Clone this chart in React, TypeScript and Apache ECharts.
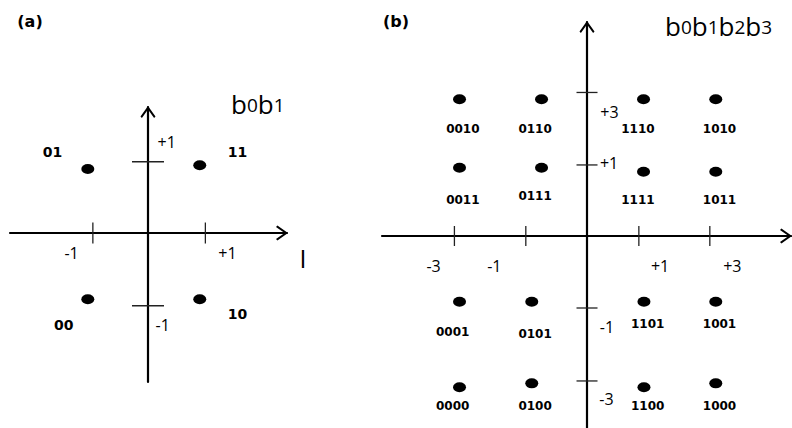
import React, { useEffect, useRef } from 'react';
import * as echarts from 'echarts';

// ---------- Panel (a): QPSK ----------
const qpskBits = ['01', '11', '00', '10'];
const qpskI = [-1.07, 0.92, -1.07, 0.92];
const qpskQ = [0.89, 0.94, -0.92, -0.92];
const qpskLabelI = [-1.69, 1.6, -1.49, 1.6];
const qpskLabelQ = [1.125, 1.125, -1.28, -1.125];
const qpskTickI = [-0.98, 1.02];
const qpskTickQ = [0.99, -1.01];
const qpskTickLabelText = ['+1', '-1', '+1', '-1'];
const qpskTickLabelI = [0.34, -1.35, 1.42, 0.27];
const qpskTickLabelQ = [1.26, -0.28, -0.28, -1.29];

// ---------- Panel (b): 16-QAM ----------
const qamBits = [
  '0010', '0110', '1110', '1010',
  '0011', '0111', '1111', '1011',
  '0001', '0101', '1101', '1001',
  '0000', '0100', '1100', '1000',
];
const qamI = [
  -3.0, -1.07, 1.33, 3.03,
  -3.0, -1.07, 1.33, 3.03,
  -3.0, -1.3, 1.34, 3.03,
  -3.0, -1.3, 1.34, 3.03,
];
const qamQ = [
  2.85, 2.85, 2.85, 2.85,
  1.42, 1.42, 1.34, 1.34,
  -1.37, -1.37, -1.37, -1.37,
  -3.15, -3.07, -3.15, -3.07,
];
const qamLabelI = [
  -2.91, -1.21, 1.21, 3.13,
  -2.91, -1.21, 1.21, 3.13,
  -3.15, -1.21, 1.44, 3.13,
  -3.15, -1.21, 1.44, 3.13,
];
const qamLabelQ = [
  2.22, 2.22, 2.22, 2.22,
  0.73, 0.82, 0.73, 0.73,
  -2.02, -2.06, -1.84, -1.84,
  -3.56, -3.56, -3.56, -3.56,
];
const qamTickI = [-3.12, -1.44, 1.22, 2.89];
const qamTickQ = [2.99, 1.48, -1.5, -3.02];
const qamTickLabelText = ['-3', '-1', '+1', '+3', '+3', '+1', '-1', '-3'];
const qamTickLabelI = [-3.6, -2.17, 1.73, 3.43, 0.54, 0.53, 0.48, 0.47];
const qamTickLabelQ = [-0.64, -0.64, -0.64, -0.64, 2.57, 1.5, -1.91, -3.4];

const ELLIPSE = 'path://M0,5a7,5 0 1,0 14,0a7,5 0 1,0 -14,0z';
const CHEVRON = 'path://M7.5,0L15,10.6L13.6,12L7.5,3.4L1.4,12L0,10.6Z';
const TEXT_FONT = '"Open Sans", "DejaVu Sans", sans-serif';
const BOLD_FONT = '"DejaVu Sans", sans-serif';

function axisPair(idx: number, xmin: number, xmax: number, ymin: number, ymax: number) {
  const line = {
    show: true,
    onZero: true,
    symbol: ['none', CHEVRON],
    symbolSize: [15, 12],
    symbolOffset: [0, -5],
    lineStyle: { color: '#000', width: 2.2 },
  };
  const common = {
    type: 'value' as const,
    gridIndex: idx,
    axisTick: { show: false },
    axisLabel: { show: false },
    splitLine: { show: false },
    axisLine: line,
  };
  return {
    x: { ...common, min: xmin, max: xmax },
    y: { ...common, min: ymin, max: ymax },
  };
}

function textSeries(idx: number, names: string[], xs: number[], ys: number[], font: string, size: number, weight: string) {
  return {
    type: 'scatter',
    xAxisIndex: idx,
    yAxisIndex: idx,
    silent: true,
    clip: false,
    symbol: 'circle',
    symbolSize: 1,
    itemStyle: { color: 'rgba(0,0,0,0)', opacity: 1 },
    label: {
      show: true,
      position: [0, 0],
      align: 'center',
      verticalAlign: 'middle',
      formatter: '{b}',
      fontFamily: font,
      fontSize: size,
      fontWeight: weight,
      color: '#000',
      textBorderWidth: 0,
      textBorderColor: 'transparent',
      opacity: 1,
    },
    data: names.map((n, i) => ({ name: n, value: [xs[i], ys[i]] })),
  };
}

function pointSeries(idx: number, xs: number[], ys: number[]) {
  return {
    type: 'scatter',
    xAxisIndex: idx,
    yAxisIndex: idx,
    silent: true,
    symbol: ELLIPSE,
    symbolSize: [13, 10],
    itemStyle: { color: '#000', opacity: 1 },
    data: xs.map((x, i) => [x, ys[i]]),
  };
}

function tickSeries(idx: number, iTicks: number[], qTicks: number[], xLen: number, yLen: number) {
  const base = {
    type: 'scatter',
    xAxisIndex: idx,
    yAxisIndex: idx,
    silent: true,
    symbol: 'rect',
    itemStyle: { color: '#222', opacity: 1 },
  };
  return [
    { ...base, symbolSize: [1.3, xLen], data: iTicks.map((v) => [v, 0]) },
    { ...base, symbolSize: [yLen, 1.3], data: qTicks.map((v) => [0, v]) },
  ];
}

function richTitle(digits: string[]) {
  return digits.map((d) => `{b|b}{d|${d}}`).join('');
}

export default function App() {
  const ref = useRef<HTMLDivElement>(null);
  useEffect(() => {
    if (!ref.current) return;
    const chart = echarts.init(ref.current, undefined, { renderer: 'svg' });
    const a = axisPair(0, -2.453, 2.471, -2.069, 1.75);
    const b = axisPair(1, -4.824, 4.8, -4.0, 4.458);
    const rich = {
      b: { fontFamily: TEXT_FONT, fontSize: 26, color: '#000', lineHeight: 30, verticalAlign: 'bottom' },
      d: { fontFamily: TEXT_FONT, fontSize: 19, color: '#000', lineHeight: 30, verticalAlign: 'bottom', padding: [0, 0, 3, 0] },
    };
    chart.setOption({
      animation: false,
      backgroundColor: '#fff',
      grid: [
        { left: 10, top: 107, width: 277, height: 275 },
        { left: 382, top: 22, width: 409, height: 406 },
      ],
      xAxis: [a.x, b.x],
      yAxis: [a.y, b.y],
      graphic: [
        { type: 'text', x: 30, y: 21, silent: true, style: { text: '(a)', fontFamily: BOLD_FONT, fontWeight: 'bold', fontSize: 16, fill: '#000', align: 'center', verticalAlign: 'middle' } },
        { type: 'text', x: 396, y: 21, silent: true, style: { text: '(b)', fontFamily: BOLD_FONT, fontWeight: 'bold', fontSize: 16, fill: '#000', align: 'center', verticalAlign: 'middle' } },
        { type: 'text', x: 231, y: 117, silent: true, style: { text: richTitle(['0', '1']), rich, align: 'left', verticalAlign: 'bottom' } },
        { type: 'text', x: 665, y: 39, silent: true, style: { text: richTitle(['0', '1', '2', '3']), rich, align: 'left', verticalAlign: 'bottom' } },
        { type: 'text', x: 303, y: 258, silent: true, style: { text: 'I', fontFamily: TEXT_FONT, fontSize: 25, fill: '#000', align: 'center', verticalAlign: 'middle' } },
      ],
      series: [
        ...tickSeries(0, qpskTickI, qpskTickQ, 21, 32),
        pointSeries(0, qpskI, qpskQ),
        textSeries(0, qpskBits, qpskLabelI, qpskLabelQ, BOLD_FONT, 14, 'bold'),
        textSeries(0, qpskTickLabelText, qpskTickLabelI, qpskTickLabelQ, TEXT_FONT, 16, 'normal'),
        ...tickSeries(1, qamTickI, qamTickQ, 20, 21),
        pointSeries(1, qamI, qamQ),
        textSeries(1, qamBits, qamLabelI, qamLabelQ, BOLD_FONT, 12, 'bold'),
        textSeries(1, qamTickLabelText, qamTickLabelI, qamTickLabelQ, TEXT_FONT, 16, 'normal'),
      ],
    });
    return () => chart.dispose();
  }, []);
  return (
    <div
      ref={ref}
      style={{ position: 'absolute', left: 0, top: 0, width: 792, height: 428, background: '#fff' }}
    />
  );
}
